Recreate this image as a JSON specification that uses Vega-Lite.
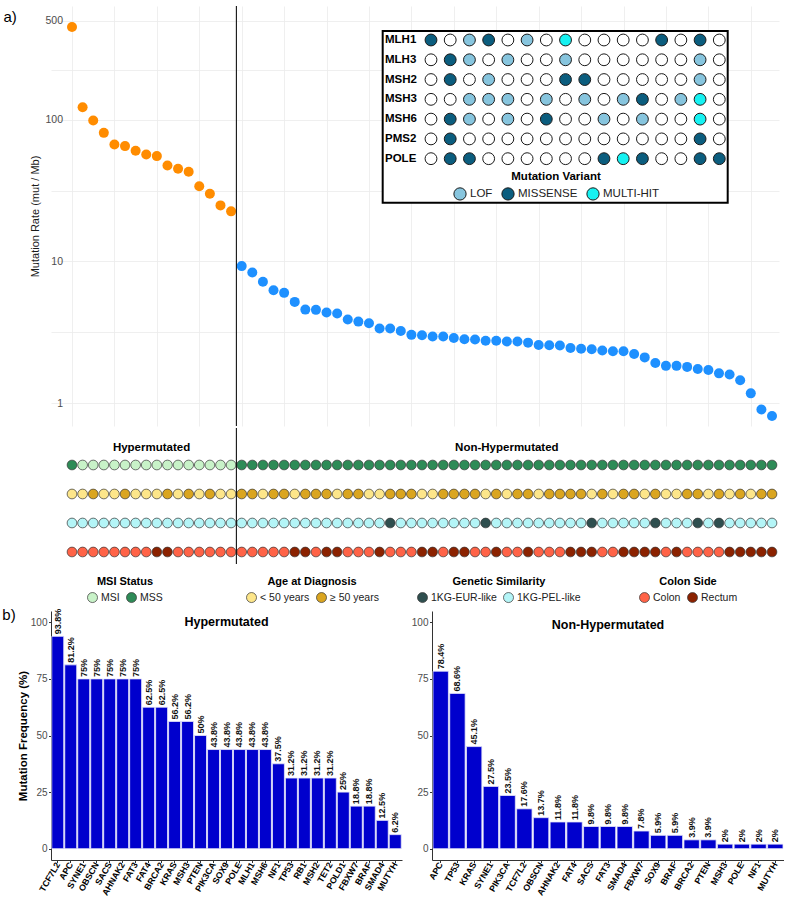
{
  "$schema": "https://vega.github.io/schema/vega-lite/v6.json",
  "padding": {"left": 2, "top": 5, "right": 0, "bottom": 0},
  "background": "white",
  "config": {
    "font": "Liberation Sans",
    "view": {"stroke": null},
    "axis": {"labelFont": "Liberation Sans", "titleFont": "Liberation Sans"},
    "legend": {"labelFont": "Liberation Sans", "titleFont": "Liberation Sans"},
    "title": {"font": "Liberation Sans"}
  },
  "datasets": {
    "samples": [
      {"s":1,"rate":454,"grp":"Hypermutated","msi":"MSS","age":"< 50 years","gen":"1KG-PEL-like","side":"Colon"},
      {"s":2,"rate":123,"grp":"Hypermutated","msi":"MSI","age":"< 50 years","gen":"1KG-PEL-like","side":"Colon"},
      {"s":3,"rate":99,"grp":"Hypermutated","msi":"MSI","age":"≥ 50 years","gen":"1KG-PEL-like","side":"Colon"},
      {"s":4,"rate":81,"grp":"Hypermutated","msi":"MSI","age":"< 50 years","gen":"1KG-PEL-like","side":"Colon"},
      {"s":5,"rate":67,"grp":"Hypermutated","msi":"MSI","age":"< 50 years","gen":"1KG-PEL-like","side":"Colon"},
      {"s":6,"rate":65.3,"grp":"Hypermutated","msi":"MSI","age":"≥ 50 years","gen":"1KG-PEL-like","side":"Colon"},
      {"s":7,"rate":60.5,"grp":"Hypermutated","msi":"MSI","age":"< 50 years","gen":"1KG-PEL-like","side":"Colon"},
      {"s":8,"rate":57,"grp":"Hypermutated","msi":"MSI","age":"< 50 years","gen":"1KG-PEL-like","side":"Colon"},
      {"s":9,"rate":55.5,"grp":"Hypermutated","msi":"MSI","age":"< 50 years","gen":"1KG-PEL-like","side":"Rectum"},
      {"s":10,"rate":47.7,"grp":"Hypermutated","msi":"MSI","age":"≥ 50 years","gen":"1KG-PEL-like","side":"Rectum"},
      {"s":11,"rate":45.2,"grp":"Hypermutated","msi":"MSI","age":"< 50 years","gen":"1KG-PEL-like","side":"Colon"},
      {"s":12,"rate":43,"grp":"Hypermutated","msi":"MSI","age":"≥ 50 years","gen":"1KG-PEL-like","side":"Colon"},
      {"s":13,"rate":34,"grp":"Hypermutated","msi":"MSI","age":"< 50 years","gen":"1KG-PEL-like","side":"Colon"},
      {"s":14,"rate":30.1,"grp":"Hypermutated","msi":"MSI","age":"≥ 50 years","gen":"1KG-PEL-like","side":"Colon"},
      {"s":15,"rate":24.9,"grp":"Hypermutated","msi":"MSI","age":"< 50 years","gen":"1KG-PEL-like","side":"Colon"},
      {"s":16,"rate":22.6,"grp":"Hypermutated","msi":"MSI","age":"< 50 years","gen":"1KG-PEL-like","side":"Colon"},
      {"s":17,"rate":9.27,"grp":"Non-Hypermutated","msi":"MSS","age":"≥ 50 years","gen":"1KG-PEL-like","side":"Colon"},
      {"s":18,"rate":8.36,"grp":"Non-Hypermutated","msi":"MSS","age":"≥ 50 years","gen":"1KG-PEL-like","side":"Colon"},
      {"s":19,"rate":7.18,"grp":"Non-Hypermutated","msi":"MSS","age":"< 50 years","gen":"1KG-PEL-like","side":"Colon"},
      {"s":20,"rate":6.27,"grp":"Non-Hypermutated","msi":"MSS","age":"≥ 50 years","gen":"1KG-PEL-like","side":"Colon"},
      {"s":21,"rate":6.0,"grp":"Non-Hypermutated","msi":"MSS","age":"≥ 50 years","gen":"1KG-PEL-like","side":"Colon"},
      {"s":22,"rate":5.18,"grp":"Non-Hypermutated","msi":"MSS","age":"< 50 years","gen":"1KG-PEL-like","side":"Rectum"},
      {"s":23,"rate":4.57,"grp":"Non-Hypermutated","msi":"MSS","age":"≥ 50 years","gen":"1KG-PEL-like","side":"Rectum"},
      {"s":24,"rate":4.55,"grp":"Non-Hypermutated","msi":"MSS","age":"≥ 50 years","gen":"1KG-PEL-like","side":"Colon"},
      {"s":25,"rate":4.36,"grp":"Non-Hypermutated","msi":"MSS","age":"≥ 50 years","gen":"1KG-PEL-like","side":"Rectum"},
      {"s":26,"rate":4.29,"grp":"Non-Hypermutated","msi":"MSS","age":"< 50 years","gen":"1KG-PEL-like","side":"Rectum"},
      {"s":27,"rate":3.89,"grp":"Non-Hypermutated","msi":"MSS","age":"≥ 50 years","gen":"1KG-PEL-like","side":"Colon"},
      {"s":28,"rate":3.76,"grp":"Non-Hypermutated","msi":"MSS","age":"≥ 50 years","gen":"1KG-PEL-like","side":"Colon"},
      {"s":29,"rate":3.66,"grp":"Non-Hypermutated","msi":"MSS","age":"< 50 years","gen":"1KG-PEL-like","side":"Colon"},
      {"s":30,"rate":3.36,"grp":"Non-Hypermutated","msi":"MSS","age":"< 50 years","gen":"1KG-PEL-like","side":"Rectum"},
      {"s":31,"rate":3.36,"grp":"Non-Hypermutated","msi":"MSS","age":"≥ 50 years","gen":"1KG-EUR-like","side":"Colon"},
      {"s":32,"rate":3.23,"grp":"Non-Hypermutated","msi":"MSS","age":"≥ 50 years","gen":"1KG-PEL-like","side":"Colon"},
      {"s":33,"rate":3.03,"grp":"Non-Hypermutated","msi":"MSS","age":"≥ 50 years","gen":"1KG-PEL-like","side":"Colon"},
      {"s":34,"rate":3.01,"grp":"Non-Hypermutated","msi":"MSS","age":"< 50 years","gen":"1KG-PEL-like","side":"Rectum"},
      {"s":35,"rate":2.95,"grp":"Non-Hypermutated","msi":"MSS","age":"< 50 years","gen":"1KG-PEL-like","side":"Rectum"},
      {"s":36,"rate":2.95,"grp":"Non-Hypermutated","msi":"MSS","age":"≥ 50 years","gen":"1KG-PEL-like","side":"Colon"},
      {"s":37,"rate":2.88,"grp":"Non-Hypermutated","msi":"MSS","age":"≥ 50 years","gen":"1KG-PEL-like","side":"Rectum"},
      {"s":38,"rate":2.82,"grp":"Non-Hypermutated","msi":"MSS","age":"≥ 50 years","gen":"1KG-PEL-like","side":"Rectum"},
      {"s":39,"rate":2.81,"grp":"Non-Hypermutated","msi":"MSS","age":"≥ 50 years","gen":"1KG-PEL-like","side":"Colon"},
      {"s":40,"rate":2.75,"grp":"Non-Hypermutated","msi":"MSS","age":"< 50 years","gen":"1KG-EUR-like","side":"Colon"},
      {"s":41,"rate":2.75,"grp":"Non-Hypermutated","msi":"MSS","age":"≥ 50 years","gen":"1KG-PEL-like","side":"Rectum"},
      {"s":42,"rate":2.72,"grp":"Non-Hypermutated","msi":"MSS","age":"< 50 years","gen":"1KG-PEL-like","side":"Colon"},
      {"s":43,"rate":2.72,"grp":"Non-Hypermutated","msi":"MSS","age":"≥ 50 years","gen":"1KG-PEL-like","side":"Colon"},
      {"s":44,"rate":2.67,"grp":"Non-Hypermutated","msi":"MSS","age":"≥ 50 years","gen":"1KG-PEL-like","side":"Rectum"},
      {"s":45,"rate":2.57,"grp":"Non-Hypermutated","msi":"MSS","age":"< 50 years","gen":"1KG-PEL-like","side":"Colon"},
      {"s":46,"rate":2.56,"grp":"Non-Hypermutated","msi":"MSS","age":"≥ 50 years","gen":"1KG-PEL-like","side":"Colon"},
      {"s":47,"rate":2.55,"grp":"Non-Hypermutated","msi":"MSS","age":"≥ 50 years","gen":"1KG-PEL-like","side":"Colon"},
      {"s":48,"rate":2.45,"grp":"Non-Hypermutated","msi":"MSS","age":"≥ 50 years","gen":"1KG-PEL-like","side":"Rectum"},
      {"s":49,"rate":2.42,"grp":"Non-Hypermutated","msi":"MSS","age":"≥ 50 years","gen":"1KG-PEL-like","side":"Rectum"},
      {"s":50,"rate":2.40,"grp":"Non-Hypermutated","msi":"MSS","age":"< 50 years","gen":"1KG-EUR-like","side":"Rectum"},
      {"s":51,"rate":2.35,"grp":"Non-Hypermutated","msi":"MSS","age":"≥ 50 years","gen":"1KG-PEL-like","side":"Colon"},
      {"s":52,"rate":2.32,"grp":"Non-Hypermutated","msi":"MSS","age":"< 50 years","gen":"1KG-PEL-like","side":"Colon"},
      {"s":53,"rate":2.32,"grp":"Non-Hypermutated","msi":"MSS","age":"≥ 50 years","gen":"1KG-PEL-like","side":"Rectum"},
      {"s":54,"rate":2.22,"grp":"Non-Hypermutated","msi":"MSS","age":"≥ 50 years","gen":"1KG-PEL-like","side":"Rectum"},
      {"s":55,"rate":2.10,"grp":"Non-Hypermutated","msi":"MSS","age":"< 50 years","gen":"1KG-PEL-like","side":"Rectum"},
      {"s":56,"rate":1.92,"grp":"Non-Hypermutated","msi":"MSS","age":"≥ 50 years","gen":"1KG-EUR-like","side":"Rectum"},
      {"s":57,"rate":1.83,"grp":"Non-Hypermutated","msi":"MSS","age":"< 50 years","gen":"1KG-PEL-like","side":"Colon"},
      {"s":58,"rate":1.83,"grp":"Non-Hypermutated","msi":"MSS","age":"< 50 years","gen":"1KG-PEL-like","side":"Rectum"},
      {"s":59,"rate":1.80,"grp":"Non-Hypermutated","msi":"MSS","age":"≥ 50 years","gen":"1KG-PEL-like","side":"Colon"},
      {"s":60,"rate":1.74,"grp":"Non-Hypermutated","msi":"MSS","age":"≥ 50 years","gen":"1KG-EUR-like","side":"Colon"},
      {"s":61,"rate":1.71,"grp":"Non-Hypermutated","msi":"MSS","age":"< 50 years","gen":"1KG-PEL-like","side":"Colon"},
      {"s":62,"rate":1.62,"grp":"Non-Hypermutated","msi":"MSS","age":"≥ 50 years","gen":"1KG-EUR-like","side":"Colon"},
      {"s":63,"rate":1.59,"grp":"Non-Hypermutated","msi":"MSS","age":"< 50 years","gen":"1KG-PEL-like","side":"Rectum"},
      {"s":64,"rate":1.45,"grp":"Non-Hypermutated","msi":"MSS","age":"≥ 50 years","gen":"1KG-PEL-like","side":"Rectum"},
      {"s":65,"rate":1.17,"grp":"Non-Hypermutated","msi":"MSS","age":"< 50 years","gen":"1KG-PEL-like","side":"Rectum"},
      {"s":66,"rate":0.90,"grp":"Non-Hypermutated","msi":"MSS","age":"≥ 50 years","gen":"1KG-PEL-like","side":"Rectum"},
      {"s":67,"rate":0.81,"grp":"Non-Hypermutated","msi":"MSS","age":"≥ 50 years","gen":"1KG-PEL-like","side":"Rectum"}
    ],
    "genes": [
      {"g":"MLH1","row":1},{"g":"MLH3","row":2},{"g":"MSH2","row":3},{"g":"MSH3","row":4},
      {"g":"MSH6","row":5},{"g":"PMS2","row":6},{"g":"POLE","row":7}
    ],
    "inset": [
      {"s":1,"g":"MLH1","v":"MISSENSE"},{"s":2,"g":"MLH1","v":"WT"},{"s":3,"g":"MLH1","v":"LOF"},{"s":4,"g":"MLH1","v":"MISSENSE"},
      {"s":5,"g":"MLH1","v":"WT"},{"s":6,"g":"MLH1","v":"LOF"},{"s":7,"g":"MLH1","v":"WT"},{"s":8,"g":"MLH1","v":"MULTI-HIT"},
      {"s":9,"g":"MLH1","v":"WT"},{"s":10,"g":"MLH1","v":"WT"},{"s":11,"g":"MLH1","v":"WT"},{"s":12,"g":"MLH1","v":"WT"},
      {"s":13,"g":"MLH1","v":"MISSENSE"},{"s":14,"g":"MLH1","v":"WT"},{"s":15,"g":"MLH1","v":"MISSENSE"},{"s":16,"g":"MLH1","v":"WT"},
      {"s":1,"g":"MLH3","v":"WT"},{"s":2,"g":"MLH3","v":"MISSENSE"},{"s":3,"g":"MLH3","v":"LOF"},{"s":4,"g":"MLH3","v":"WT"},
      {"s":5,"g":"MLH3","v":"LOF"},{"s":6,"g":"MLH3","v":"WT"},{"s":7,"g":"MLH3","v":"WT"},{"s":8,"g":"MLH3","v":"LOF"},
      {"s":9,"g":"MLH3","v":"WT"},{"s":10,"g":"MLH3","v":"WT"},{"s":11,"g":"MLH3","v":"WT"},{"s":12,"g":"MLH3","v":"WT"},
      {"s":13,"g":"MLH3","v":"WT"},{"s":14,"g":"MLH3","v":"WT"},{"s":15,"g":"MLH3","v":"LOF"},{"s":16,"g":"MLH3","v":"WT"},
      {"s":1,"g":"MSH2","v":"WT"},{"s":2,"g":"MSH2","v":"MISSENSE"},{"s":3,"g":"MSH2","v":"WT"},{"s":4,"g":"MSH2","v":"LOF"},
      {"s":5,"g":"MSH2","v":"WT"},{"s":6,"g":"MSH2","v":"WT"},{"s":7,"g":"MSH2","v":"WT"},{"s":8,"g":"MSH2","v":"MISSENSE"},
      {"s":9,"g":"MSH2","v":"MISSENSE"},{"s":10,"g":"MSH2","v":"WT"},{"s":11,"g":"MSH2","v":"WT"},{"s":12,"g":"MSH2","v":"WT"},
      {"s":13,"g":"MSH2","v":"WT"},{"s":14,"g":"MSH2","v":"WT"},{"s":15,"g":"MSH2","v":"LOF"},{"s":16,"g":"MSH2","v":"WT"},
      {"s":1,"g":"MSH3","v":"WT"},{"s":2,"g":"MSH3","v":"WT"},{"s":3,"g":"MSH3","v":"LOF"},{"s":4,"g":"MSH3","v":"LOF"},
      {"s":5,"g":"MSH3","v":"LOF"},{"s":6,"g":"MSH3","v":"WT"},{"s":7,"g":"MSH3","v":"LOF"},{"s":8,"g":"MSH3","v":"WT"},
      {"s":9,"g":"MSH3","v":"LOF"},{"s":10,"g":"MSH3","v":"WT"},{"s":11,"g":"MSH3","v":"LOF"},{"s":12,"g":"MSH3","v":"MISSENSE"},
      {"s":13,"g":"MSH3","v":"WT"},{"s":14,"g":"MSH3","v":"LOF"},{"s":15,"g":"MSH3","v":"MULTI-HIT"},{"s":16,"g":"MSH3","v":"WT"},
      {"s":1,"g":"MSH6","v":"WT"},{"s":2,"g":"MSH6","v":"MISSENSE"},{"s":3,"g":"MSH6","v":"LOF"},{"s":4,"g":"MSH6","v":"WT"},
      {"s":5,"g":"MSH6","v":"LOF"},{"s":6,"g":"MSH6","v":"WT"},{"s":7,"g":"MSH6","v":"MISSENSE"},{"s":8,"g":"MSH6","v":"WT"},
      {"s":9,"g":"MSH6","v":"WT"},{"s":10,"g":"MSH6","v":"LOF"},{"s":11,"g":"MSH6","v":"WT"},{"s":12,"g":"MSH6","v":"LOF"},
      {"s":13,"g":"MSH6","v":"WT"},{"s":14,"g":"MSH6","v":"WT"},{"s":15,"g":"MSH6","v":"MULTI-HIT"},{"s":16,"g":"MSH6","v":"WT"},
      {"s":1,"g":"PMS2","v":"WT"},{"s":2,"g":"PMS2","v":"MISSENSE"},{"s":3,"g":"PMS2","v":"WT"},{"s":4,"g":"PMS2","v":"WT"},
      {"s":5,"g":"PMS2","v":"WT"},{"s":6,"g":"PMS2","v":"WT"},{"s":7,"g":"PMS2","v":"WT"},{"s":8,"g":"PMS2","v":"WT"},
      {"s":9,"g":"PMS2","v":"WT"},{"s":10,"g":"PMS2","v":"WT"},{"s":11,"g":"PMS2","v":"WT"},{"s":12,"g":"PMS2","v":"WT"},
      {"s":13,"g":"PMS2","v":"WT"},{"s":14,"g":"PMS2","v":"WT"},{"s":15,"g":"PMS2","v":"MISSENSE"},{"s":16,"g":"PMS2","v":"WT"},
      {"s":1,"g":"POLE","v":"WT"},{"s":2,"g":"POLE","v":"MISSENSE"},{"s":3,"g":"POLE","v":"MISSENSE"},{"s":4,"g":"POLE","v":"WT"},
      {"s":5,"g":"POLE","v":"WT"},{"s":6,"g":"POLE","v":"WT"},{"s":7,"g":"POLE","v":"WT"},{"s":8,"g":"POLE","v":"WT"},
      {"s":9,"g":"POLE","v":"WT"},{"s":10,"g":"POLE","v":"MISSENSE"},{"s":11,"g":"POLE","v":"MULTI-HIT"},{"s":12,"g":"POLE","v":"MISSENSE"},
      {"s":13,"g":"POLE","v":"WT"},{"s":14,"g":"POLE","v":"WT"},{"s":15,"g":"POLE","v":"MISSENSE"},{"s":16,"g":"POLE","v":"MISSENSE"}
    ],
    "hyper": [
      {"gene":"TCF7L2","pct":93.8},{"gene":"APC","pct":81.2},{"gene":"SYNE1","pct":75},{"gene":"OBSCN","pct":75},
      {"gene":"SACS","pct":75},{"gene":"AHNAK2","pct":75},{"gene":"FAT3","pct":75},{"gene":"FAT4","pct":62.5},
      {"gene":"BRCA2","pct":62.5},{"gene":"KRAS","pct":56.2},{"gene":"MSH3","pct":56.2},{"gene":"PTEN","pct":50},
      {"gene":"PIK3CA","pct":43.8},{"gene":"SOX9","pct":43.8},{"gene":"POLE","pct":43.8},{"gene":"MLH1","pct":43.8},
      {"gene":"MSH6","pct":43.8},{"gene":"NF1","pct":37.5},{"gene":"TP53","pct":31.2},{"gene":"RB1","pct":31.2},
      {"gene":"MSH2","pct":31.2},{"gene":"TET2","pct":31.2},{"gene":"POLD1","pct":25},{"gene":"FBXW7","pct":18.8},
      {"gene":"BRAF","pct":18.8},{"gene":"SMAD4","pct":12.5},{"gene":"MUTYH","pct":6.2}
    ],
    "nonhyper": [
      {"gene":"APC","pct":78.4},{"gene":"TP53","pct":68.6},{"gene":"KRAS","pct":45.1},{"gene":"SYNE1","pct":27.5},
      {"gene":"PIK3CA","pct":23.5},{"gene":"TCF7L2","pct":17.6},{"gene":"OBSCN","pct":13.7},{"gene":"AHNAK2","pct":11.8},
      {"gene":"FAT4","pct":11.8},{"gene":"SACS","pct":9.8},{"gene":"FAT3","pct":9.8},{"gene":"SMAD4","pct":9.8},
      {"gene":"FBXW7","pct":7.8},{"gene":"SOX9","pct":5.9},{"gene":"BRAF","pct":5.9},{"gene":"BRCA2","pct":3.9},
      {"gene":"PTEN","pct":3.9},{"gene":"MSH3","pct":2},{"gene":"POLE","pct":2},{"gene":"NF1","pct":2},{"gene":"MUTYH","pct":2}
    ]
  },
  "vconcat": [
    {
      "title": {"text": "a)", "anchor": "start", "frame": "bounds", "fontSize": 15, "fontWeight": "normal", "color": "black", "dx": -26, "dy": 20, "offset": 0},
      "spacing": 0,
      "vconcat": [
        {
          "width": 728,
          "height": 420,
          "layer": [
            {
              "layer": [
                {
                  "data": {"name": "samples"},
                  "mark": {"type": "circle", "size": 100, "opacity": 1},
                  "encoding": {
                    "x": {"field": "s", "type": "quantitative",
                      "scale": {"domain": [-0.98, 67.66], "nice": false, "zero": false},
                      "axis": {"values": [1,2,3,4,5,6,7,8,9,10,11,12,13,14,15,16,17,18,19,20,21,22,23,24,25,26,27,28,29,30,31,32,33,34,35,36,37,38,39,40,41,42,43,44,45,46,47,48,49,50,51,52,53,54,55,56,57,58,59,60,61,62,63,64,65,66,67],
                        "labels": false, "ticks": false, "domain": false, "grid": true, "gridColor": "#EBEBEB", "gridWidth": 0.8, "title": null}},
                    "y": {"field": "rate", "type": "quantitative",
                      "scale": {"type": "log", "domain": [0.688, 638], "nice": false},
                      "axis": {"values": [1, 3.1623, 10, 31.623, 100, 223.61, 500], "offset": -14,
                        "labelExpr": "(datum.value == 1 || datum.value == 10 || datum.value == 100 || datum.value == 500) ? datum.label : ''",
                        "ticks": false, "tickSize": 0, "domain": false, "grid": true, "gridColor": "#EBEBEB", "gridWidth": 0.8,
                        "labelFontSize": 10.5, "labelColor": "#4D4D4D", "labelPadding": 2.5,
                        "title": "Mutation Rate  (mut / Mb)", "titleFontSize": 11, "titleFontWeight": "normal", "titleColor": "#1a1a1a", "titlePadding": 4.5}},
                    "color": {"field": "grp", "type": "nominal",
                      "scale": {"domain": ["Hypermutated", "Non-Hypermutated"], "range": ["#FF8C00", "#1E90FF"]}, "legend": null}
                  }
                },
                {
                  "data": {"values": [{}]},
                  "mark": {"type": "rule", "color": "#111111", "strokeWidth": 1.1},
                  "encoding": {"x": {"datum": 16.5, "type": "quantitative"}}
                }
              ]
            },
            {
              "layer": [
                {
                  "data": {"values": [{}]},
                  "mark": {"type": "rect", "fill": "white", "stroke": "black", "strokeWidth": 2},
                  "encoding": {
                    "x": {"datum": -1.513, "type": "quantitative", "scale": {"domain": [-18.77, 19.106], "nice": false, "zero": false}, "axis": null},
                    "x2": {"datum": 16.437},
                    "y": {"datum": 0.545, "type": "quantitative", "scale": {"domain": [-0.719, 20.515], "reverse": true, "nice": false, "zero": false}, "axis": null},
                    "y2": {"datum": 9.226}
                  }
                },
                {
                  "data": {"name": "inset"},
                  "transform": [{"lookup": "g", "from": {"data": {"name": "genes"}, "key": "g", "fields": ["row"]}}],
                  "mark": {"type": "circle", "size": 140, "opacity": 1, "stroke": "#1a1a1a", "strokeWidth": 1},
                  "encoding": {
                    "x": {"field": "s", "type": "quantitative"},
                    "y": {"field": "row", "type": "quantitative"},
                    "fill": {"field": "v", "type": "nominal",
                      "scale": {"domain": ["WT", "LOF", "MISSENSE", "MULTI-HIT"], "range": ["#FFFFFF", "#87C5DE", "#0B5D7E", "#16F2F2"]},
                      "legend": {"title": "Mutation Variant", "orient": "none", "legendX": 402, "legendY": 165, "direction": "horizontal",
                        "values": ["LOF", "MISSENSE", "MULTI-HIT"], "titleAnchor": "middle", "titleFontSize": 11.5, "titleFontWeight": "bold", "titleColor": "black",
                        "labelFontSize": 11.5, "labelColor": "#222222", "symbolSize": 150, "symbolType": "circle", "symbolStrokeColor": "#1a1a1a", "symbolStrokeWidth": 1,
                        "columnPadding": 6, "labelOffset": 3, "titlePadding": 4, "padding": 0}}
                  }
                },
                {
                  "data": {"name": "genes"},
                  "mark": {"type": "text", "align": "left", "baseline": "middle", "fontWeight": "bold", "fontSize": 11.5, "color": "black"},
                  "encoding": {
                    "x": {"datum": -1.393, "type": "quantitative"},
                    "y": {"field": "row", "type": "quantitative"},
                    "text": {"field": "g"}
                  }
                }
              ]
            }
          ],
          "resolve": {"scale": {"x": "independent", "y": "independent"}, "axis": {"x": "independent", "y": "independent"}}
        },
        {
          "width": 728,
          "height": 136,
          "data": {"name": "samples"},
          "layer": [
            {
              "mark": {"type": "circle", "size": 95, "opacity": 1, "stroke": "#333333", "strokeWidth": 0.7},
              "encoding": {
                "x": {"field": "s", "type": "quantitative", "scale": {"domain": [-0.98, 67.66], "nice": false, "zero": false}, "axis": null},
                "y": {"datum": "MSI Status", "type": "nominal",
                  "scale": {"type": "point", "domain": ["MSI Status", "Age at Diagnosis", "Genetic Similarity", "Colon Side"], "padding": 0.845, "align": 0.755},
                  "axis": null},
                "fill": {"field": "msi", "type": "nominal", "scale": {"domain": ["MSI", "MSS"], "range": ["#C8F2C8", "#2E8B57"]},
                  "legend": {"title": "MSI Status", "orient": "none", "legendX": 36, "legendY": 148, "direction": "horizontal", "titleAnchor": "middle",
                    "titleFontSize": 11, "titleFontWeight": "bold", "titleColor": "black", "labelFontSize": 10.5, "labelColor": "#222222",
                    "symbolSize": 100, "symbolType": "circle", "symbolStrokeColor": "#333333", "symbolStrokeWidth": 0.7, "columnPadding": 5, "labelOffset": 3, "titlePadding": 5, "padding": 0}}
              }
            },
            {
              "mark": {"type": "circle", "size": 95, "opacity": 1, "stroke": "#333333", "strokeWidth": 0.7},
              "encoding": {
                "x": {"field": "s", "type": "quantitative"},
                "y": {"datum": "Age at Diagnosis", "type": "nominal"},
                "fill": {"field": "age", "type": "nominal", "scale": {"domain": ["< 50 years", "≥ 50 years"], "range": ["#FDE68A", "#DAA520"]},
                  "legend": {"title": "Age at Diagnosis", "orient": "none", "legendX": 195, "legendY": 148, "direction": "horizontal", "titleAnchor": "middle",
                    "titleFontSize": 11, "titleFontWeight": "bold", "titleColor": "black", "labelFontSize": 10.5, "labelColor": "#222222",
                    "symbolSize": 100, "symbolType": "circle", "symbolStrokeColor": "#333333", "symbolStrokeWidth": 0.7, "columnPadding": 5, "labelOffset": 3, "titlePadding": 5, "padding": 0}}
              }
            },
            {
              "mark": {"type": "circle", "size": 95, "opacity": 1, "stroke": "#333333", "strokeWidth": 0.7},
              "encoding": {
                "x": {"field": "s", "type": "quantitative"},
                "y": {"datum": "Genetic Similarity", "type": "nominal"},
                "fill": {"field": "gen", "type": "nominal", "scale": {"domain": ["1KG-EUR-like", "1KG-PEL-like"], "range": ["#2F4F4F", "#B4F5F7"]},
                  "legend": {"title": "Genetic Similarity", "orient": "none", "legendX": 366, "legendY": 148, "direction": "horizontal", "titleAnchor": "middle",
                    "titleFontSize": 11, "titleFontWeight": "bold", "titleColor": "black", "labelFontSize": 10.5, "labelColor": "#222222",
                    "symbolSize": 100, "symbolType": "circle", "symbolStrokeColor": "#333333", "symbolStrokeWidth": 0.7, "columnPadding": 5, "labelOffset": 3, "titlePadding": 5, "padding": 0}}
              }
            },
            {
              "mark": {"type": "circle", "size": 95, "opacity": 1, "stroke": "#333333", "strokeWidth": 0.7},
              "encoding": {
                "x": {"field": "s", "type": "quantitative"},
                "y": {"datum": "Colon Side", "type": "nominal"},
                "fill": {"field": "side", "type": "nominal", "scale": {"domain": ["Colon", "Rectum"], "range": ["#FF6347", "#8B2200"]},
                  "legend": {"title": "Colon Side", "orient": "none", "legendX": 588, "legendY": 148, "direction": "horizontal", "titleAnchor": "middle",
                    "titleFontSize": 11, "titleFontWeight": "bold", "titleColor": "black", "labelFontSize": 10.5, "labelColor": "#222222",
                    "symbolSize": 100, "symbolType": "circle", "symbolStrokeColor": "#333333", "symbolStrokeWidth": 0.7, "columnPadding": 5, "labelOffset": 3, "titlePadding": 5, "padding": 0}}
              }
            },
            {
              "transform": [{"aggregate": [{"op": "mean", "field": "s", "as": "mid"}], "groupby": ["grp"]}],
              "mark": {"type": "text", "fontWeight": "bold", "fontSize": 11.5, "color": "black", "baseline": "middle", "dy": -17},
              "encoding": {
                "x": {"field": "mid", "type": "quantitative"},
                "y": {"datum": "MSI Status", "type": "nominal"},
                "text": {"field": "grp"}
              }
            },
            {
              "data": {"values": [{}]},
              "mark": {"type": "rule", "color": "#111111", "strokeWidth": 1.1},
              "encoding": {"x": {"datum": 16.5, "type": "quantitative"}}
            }
          ],
          "resolve": {"scale": {"fill": "independent"}}
        }
      ]
    },
    {
      "title": {"text": "b)", "anchor": "start", "frame": "bounds", "fontSize": 15, "fontWeight": "normal", "color": "black", "dx": -15, "dy": 14, "offset": 0},
      "spacing": 9,
      "hconcat": [
        {
          "width": 351,
          "height": 249,
          "data": {"name": "hyper"},
          "title": {"text": "Hypermutated", "fontSize": 12.5, "fontWeight": "bold", "color": "black", "anchor": "middle", "dy": 24},
          "transform": [{"calculate": "format(datum.pct, '.3~r') + '%'", "as": "lab"}],
          "encoding": {
            "x": {"field": "gene", "type": "nominal", "sort": null, "scale": {"paddingInner": 0.08, "paddingOuter": 0.06},
              "axis": {"title": null, "labelAngle": -60, "labelAlign": "right", "labelBaseline": "middle", "labelFontSize": 8.8, "labelFontWeight": "bold",
                "labelColor": "black", "tickSize": 2.5, "tickColor": "#333333", "domainColor": "#333333", "labelPadding": 0, "labelOverlap": false}},
            "y": {"field": "pct", "type": "quantitative", "scale": {"domain": [-5, 105], "nice": false, "zero": false},
              "axis": {"values": [0, 25, 50, 75, 100], "title": "Mutation Frequency (%)", "titleFontSize": 11.5, "titleFontWeight": "bold", "titleColor": "black",
                "titlePadding": 2, "labelFontSize": 10, "labelColor": "#4D4D4D", "tickSize": 2.5, "labelPadding": 1.5, "grid": false,
                "domainColor": "#333333", "tickColor": "#333333"}}
          },
          "layer": [
            {"mark": {"type": "bar", "color": "#0000CD", "stroke": "#E6E6FA", "strokeWidth": 0.8}},
            {"mark": {"type": "text", "angle": 270, "align": "left", "baseline": "middle", "dx": 2, "fontSize": 9, "fontWeight": "bold", "color": "#111111"},
              "encoding": {"text": {"field": "lab"}}}
          ]
        },
        {
          "width": 352,
          "height": 249,
          "data": {"name": "nonhyper"},
          "title": {"text": "Non-Hypermutated", "fontSize": 12.5, "fontWeight": "bold", "color": "black", "anchor": "middle", "dy": 24},
          "transform": [{"calculate": "format(datum.pct, '.3~r') + '%'", "as": "lab"}],
          "encoding": {
            "x": {"field": "gene", "type": "nominal", "sort": null, "scale": {"paddingInner": 0.08, "paddingOuter": 0.06},
              "axis": {"title": null, "labelAngle": -60, "labelAlign": "right", "labelBaseline": "middle", "labelFontSize": 8.8, "labelFontWeight": "bold",
                "labelColor": "black", "tickSize": 2.5, "tickColor": "#333333", "domainColor": "#333333", "labelPadding": 0, "labelOverlap": false}},
            "y": {"field": "pct", "type": "quantitative", "scale": {"domain": [-5, 105], "nice": false, "zero": false},
              "axis": {"values": [0, 25, 50, 75, 100], "title": null, "labelFontSize": 10, "labelColor": "#4D4D4D", "tickSize": 2.5, "labelPadding": 1.5, "grid": false,
                "domainColor": "#333333", "tickColor": "#333333"}}
          },
          "layer": [
            {"mark": {"type": "bar", "color": "#0000CD", "stroke": "#E6E6FA", "strokeWidth": 0.8}},
            {"mark": {"type": "text", "angle": 270, "align": "left", "baseline": "middle", "dx": 2, "fontSize": 9, "fontWeight": "bold", "color": "#111111"},
              "encoding": {"text": {"field": "lab"}}}
          ]
        }
      ]
    }
  ],
  "spacing": 3
}
